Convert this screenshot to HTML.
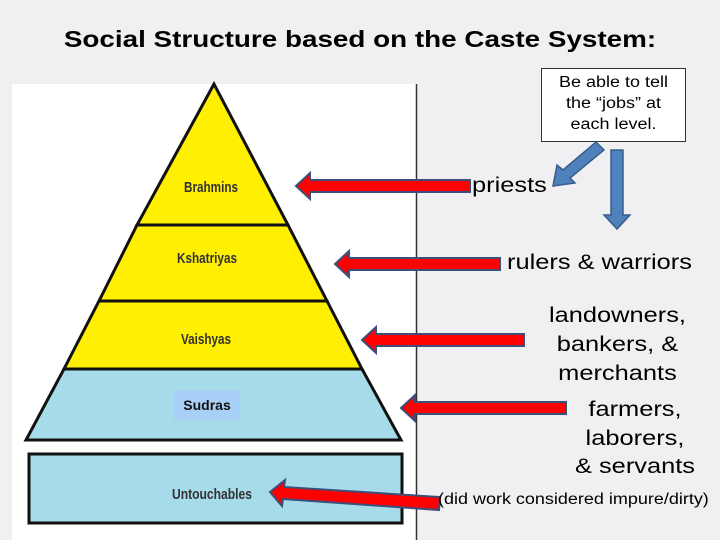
<!DOCTYPE html>
<html><head><style>
body{margin:0;width:720px;height:540px;background:#f0f0f2;position:relative;overflow:hidden;font-family:"Liberation Sans",sans-serif}
.t{position:absolute;color:#000;white-space:nowrap}
.s{transform:scaleX(1.21);transform-origin:left center}
.c{transform:scaleX(1.21);transform-origin:center center}
</style></head><body>
<div class="t c" style="left:0;width:720px;top:26px;text-align:center;font-size:23px;font-weight:bold">Social Structure based on the Caste System:</div>
<svg width="720" height="540" style="position:absolute;left:0;top:0">
<rect x="12" y="84" width="404" height="456" fill="#fff"/>
<line x1="416.5" y1="84" x2="416.5" y2="540" stroke="#333" stroke-width="1.5"/>
<polygon points="214,84 137,225 288,225" fill="#ffef00" stroke="#111" stroke-width="3"/>
<polygon points="137,225 288,225 327,301 99,301" fill="#ffef00" stroke="#111" stroke-width="3"/>
<polygon points="99,301 327,301 362,369 64,369" fill="#ffef00" stroke="#111" stroke-width="3"/>
<polygon points="64,369 362,369 401,440 26,440" fill="#a6dbea" stroke="#111" stroke-width="3"/>
<rect x="29" y="454" width="373" height="69" fill="#a6dbea" stroke="#111" stroke-width="3"/>
<rect x="174" y="390" width="66" height="30" fill="#a8cff5"/>
<g font-family="Liberation Sans Narrow, Liberation Sans, sans-serif" font-weight="bold" font-size="15" fill="#333">
<text x="184" y="192" textLength="54" lengthAdjust="spacingAndGlyphs">Brahmins</text>
<text x="177" y="263" textLength="60" lengthAdjust="spacingAndGlyphs">Kshatriyas</text>
<text x="181" y="344" textLength="50" lengthAdjust="spacingAndGlyphs">Vaishyas</text>
<text x="172" y="499" textLength="80" lengthAdjust="spacingAndGlyphs">Untouchables</text>
</g>
<text x="207" y="410" font-family="Liberation Sans" font-weight="bold" font-size="14" fill="#111" text-anchor="middle">Sudras</text>
<g fill="#f00" stroke="#3a4f7a" stroke-width="2">
<polygon points="296,186 310,173 310,180 470,180 470,192 310,192 310,199"/>
<polygon points="335,264 349,251 349,258 500,258 500,270 349,270 349,277"/>
<polygon points="362,340 376,327 376,334 524,334 524,346 376,346 376,353"/>
<polygon points="401,408 415,395 415,402 566,402 566,414 415,414 415,421"/>
<polygon points="270,492 285,480 284,487 440,497 439,510 283,499 282,506"/>
</g>
<rect x="541.5" y="68.5" width="144" height="73" fill="#fff" stroke="#333"/>
<g fill="#4f81bd" stroke="#385d8a" stroke-width="1.5">
<polygon points="596,142 604,150 570,178 575,183 553,186 557,165 563,170"/>
<polygon points="611,150 623,150 623,215 630,215 617,229 604,215 611,215"/>
</g>
</svg>
<div class="t c" style="left:541px;width:145px;top:72px;text-align:center;font-size:15.5px;line-height:21px;transform:scaleX(1.16)">Be able to tell<br>the “jobs” at<br>each level.</div>
<div class="t s" style="left:472px;top:174px;font-size:21px">priests</div>
<div class="t s" style="left:507px;top:251px;font-size:21px">rulers &amp; warriors</div>
<div class="t c" style="left:540px;top:301px;width:155px;text-align:center;font-size:21px;line-height:29px">landowners,<br>bankers, &amp;<br>merchants</div>
<div class="t c" style="left:560px;top:396px;width:150px;text-align:center;font-size:21px;line-height:28.5px">farmers,<br>laborers,<br>&amp; servants</div>
<div class="t s" style="left:438px;top:491px;font-size:15.5px;transform:scaleX(1.16)">(did work considered impure/dirty)</div>
</body></html>
